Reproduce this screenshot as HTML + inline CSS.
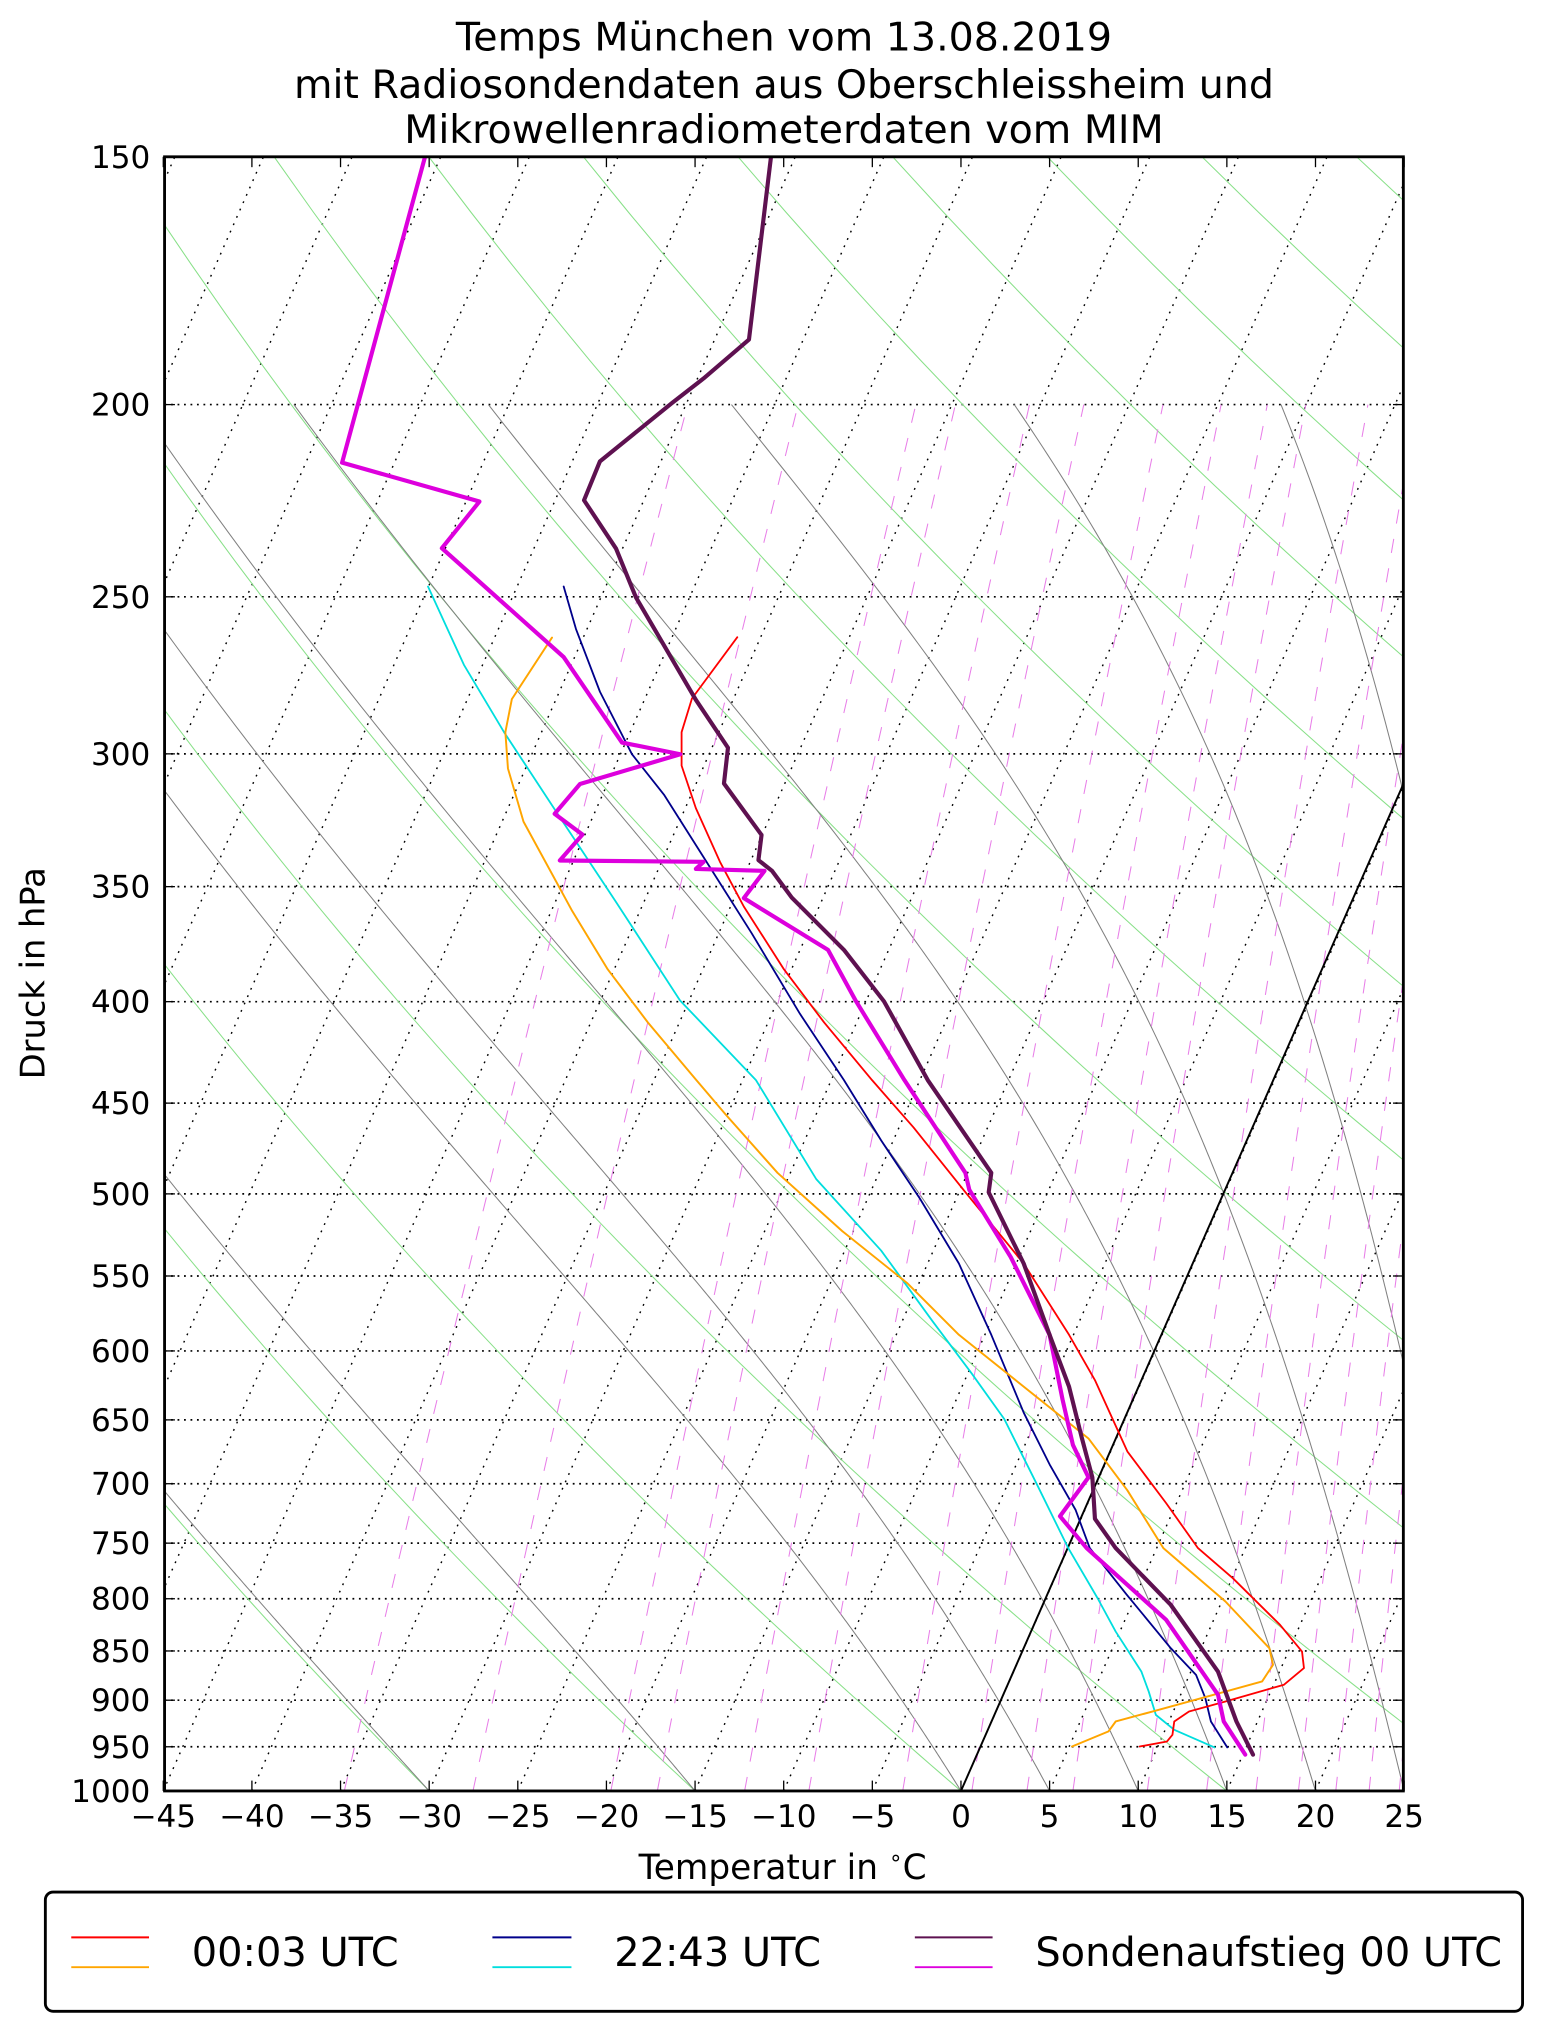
<!DOCTYPE html>
<html><head><meta charset="utf-8"><style>html,body{margin:0;padding:0;background:#fff}svg{display:block}text{font-family:"DejaVu Sans","Liberation Sans",sans-serif;fill:#000}</style></head>
<body>
<svg id="s" width="1542" height="2032" viewBox="0 0 1190 1568" preserveAspectRatio="none" xmlns="http://www.w3.org/2000/svg">
<defs><clipPath id="c"><rect x="127" y="121" width="956" height="1261"/></clipPath></defs>
<rect width="1190" height="1568" fill="#fff"/>
<g id="bg" clip-path="url(#c)"></g>
<g id="data" clip-path="url(#c)" fill="none" stroke-linejoin="round" stroke-linecap="round"></g>
<rect x="127" y="121" width="956" height="1261" fill="none" stroke="#000" stroke-width="2.2"/>
<g id="ticks"></g>
<text x="605" y="39" font-size="30.5" text-anchor="middle">Temps München vom 13.08.2019</text>
<text x="605" y="75.5" font-size="30.5" text-anchor="middle">mit Radiosondendaten aus Oberschleissheim und</text>
<text x="605" y="110.5" font-size="30.5" text-anchor="middle">Mikrowellenradiometerdaten vom MIM</text>
<text x="604" y="1450" font-size="26.5" text-anchor="middle">Temperatur in <tspan font-size="17" dy="-11">∘</tspan><tspan dy="11">C</tspan></text>
<text x="0" y="0" font-size="26" text-anchor="middle" transform="translate(34.5,751) rotate(-90)">Druck in hPa</text>
<rect x="35" y="1460" width="1140" height="92" rx="6" fill="#fff" stroke="#000" stroke-width="2.2"/>
<line x1="55" y1="1495" x2="115" y2="1495" stroke="#ff0000" stroke-width="1.5"/>
<line x1="55" y1="1518" x2="115" y2="1518" stroke="#ffa500" stroke-width="1.5"/>
<line x1="380" y1="1495" x2="441" y2="1495" stroke="#00008b" stroke-width="1.5"/>
<line x1="380" y1="1518" x2="441" y2="1518" stroke="#00dede" stroke-width="1.5"/>
<line x1="706" y1="1495" x2="766" y2="1495" stroke="#5e1150" stroke-width="1.5"/>
<line x1="706" y1="1518" x2="766" y2="1518" stroke="#dd00dd" stroke-width="1.5"/>
<text x="148" y="1517" font-size="30.8">00:03 UTC</text>
<text x="474" y="1517" font-size="30.8">22:43 UTC</text>
<text x="799" y="1517" font-size="30.8">Sondenaufstieg 00 UTC</text>
</svg>
<script>
(function(){
var NS="http://www.w3.org/2000/svg";
function Y(p){return 1382-664.7*Math.log(1000/p);}
function X(T,p){return 741.6+13.68*T+0.441*(1382-Y(p));}
function el(par,tag,a){var e=document.createElementNS(NS,tag);for(var k in a)e.setAttribute(k,a[k]);par.appendChild(e);return e;}
function pth(pts){var d="";for(var i=0;i<pts.length;i++)d+=(i?"L":"M")+pts[i][0].toFixed(2)+" "+pts[i][1].toFixed(2);return d;}
var bg=document.getElementById("bg"),dg=document.getElementById("data"),tk=document.getElementById("ticks");
var P=[150,200,250,300,350,400,450,500,550,600,650,700,750,800,850,900,950,1000];
P.forEach(function(p){var y=Y(p);el(bg,"line",{x1:127,x2:1083,y1:y,y2:y,stroke:"#000","stroke-width":1.3,"stroke-dasharray":"1.4 3.6"});});
for(var T=-150;T<=40;T+=5){el(bg,"line",{x1:X(T,1000),y1:Y(1000),x2:X(T,150),y2:Y(150),stroke:"#000","stroke-width":1.1,"stroke-dasharray":"1.4 4.8"});}
for(var T0=-60;T0<=240;T0+=15){var pts=[];for(var p=1000;p>=150;p-=10){var t=(T0+273.15)*Math.pow(p/1000,0.2857)-273.15;pts.push([X(t,p),Y(p)]);}el(bg,"path",{d:pth(pts),fill:"none",stroke:"#88e088","stroke-width":0.8});}
function es(tc){return 6.112*Math.exp(17.67*tc/(tc+243.5));}
[-30,-15,0,5,10,15,20,25,30,35].forEach(function(T0){var T=T0+273.15,pts=[];for(var p=1000;p>=200;p-=2){pts.push([X(T-273.15,p),Y(p)]);var e=es(T-273.15),rs=0.622*e/(p-e),Lv=2.5e6,Rd=287,Cp=1004;var g=(Rd*T+Lv*rs)/(Cp+Lv*Lv*rs*0.622/(Rd*T*T))/p;T-=g*2;}el(bg,"path",{d:pth(pts),fill:"none",stroke:"#808080","stroke-width":0.8});});
[0.2,0.4,0.8,1,1.5,2,3,4,5,6,8,10,12,14,16,18,20,24,28,32,36,40].forEach(function(w){var pts=[];for(var p=1000;p>=200;p-=10){var e=w*p/(622+w);var l=Math.log(e/6.112);var td=243.5*l/(17.67-l);pts.push([X(td,p),Y(p)]);}el(bg,"path",{d:pth(pts),fill:"none",stroke:"#e87ee8","stroke-width":0.8,"stroke-dasharray":"11 12"});});
el(bg,"line",{x1:741.6,y1:1382,x2:1083,y2:605,stroke:"#000","stroke-width":1.5});
P.forEach(function(p){var y=Y(p);el(tk,"line",{x1:127,x2:135,y1:y,y2:y,stroke:"#000","stroke-width":1});el(tk,"line",{x1:1075,x2:1083,y1:y,y2:y,stroke:"#000","stroke-width":1});var t=el(tk,"text",{x:116,y:y+8.5,"font-size":24,"text-anchor":"end"});t.textContent=p;});
for(var T=-45;T<=25;T+=5){var x=741.6+13.68*T;el(tk,"line",{x1:x,x2:x,y1:1382,y2:1374,stroke:"#000","stroke-width":1});el(tk,"line",{x1:x,x2:x,y1:121,y2:129,stroke:"#000","stroke-width":1});var t=el(tk,"text",{x:x,y:1410,"font-size":24,"text-anchor":"middle"});t.textContent=(T<0?"\u2212":"")+Math.abs(T);}
function line(pts,c,w){el(dg,"path",{d:pth(pts),stroke:c,"stroke-width":w});}
line([[435,452.6],[444.5,485.4],[463,533.8],[487.7,582],[512.4,613.2],[543,661.5],[580,720],[617.4,782.4],[651.3,833.5],[680,880],[710,925],[740,975],[765,1030],[790,1090],[810,1130],[830,1165],[841,1194.6],[869.6,1230.6],[903.5,1271.8],[923,1292.4],[930.2,1310.4],[934.5,1328.4],[947.1,1348.4]],"#00008b",1.4);
line([[330.3,452.6],[358,513],[389,565],[432,630.5],[475.4,696],[524.8,772],[583.4,833.5],[630,910],[680,965],[720,1020],[750,1060],[775,1095],[800,1145],[824.4,1194.6],[847,1233.2],[861,1259],[880.8,1289.8],[886.5,1305.3],[892,1323.3],[906.2,1334.8],[937.3,1348.4]],"#00dede",1.4);
line([[426,492],[395,539.5],[390,565],[392,593],[404,634],[441.6,703],[469,748],[500,789],[537,833],[560,860],[600,905],[650,950],[700,990],[740,1030],[790,1070],[840,1110],[870,1150],[897.8,1194.6],[945.7,1235.8],[979.6,1271.8],[982.4,1284.7],[974,1297.5],[945.7,1305.3],[889.3,1320.7],[861,1328.4],[855.5,1336],[827.3,1347.7]],"#ffa500",1.5);
line([[569,491.7],[534,539],[526,565],[526,590.8],[537,623.6],[555.6,665],[574,699.5],[605,748],[636,789],[673,833.5],[705,870],[745,920],[790,975],[825,1030],[845,1065],[870,1120],[900,1160],[924.5,1194.6],[951.4,1217.8],[987.8,1253.8],[1004.8,1274.4],[1006.3,1287.2],[990.9,1300],[945.7,1313],[917.6,1320.7],[906.2,1328.4],[904.8,1338.7],[900.6,1343.8],[879.5,1347.7]],"#ff0000",1.4);
line([[328,121],[264,357],[370,387],[341,423],[435,507],[480,573],[525,582],[447.6,605],[428,628],[449.5,644],[432,664],[543,665],[537,670.5],[590,672],[574,693],[639,733],[660.6,772.6],[698,833.5],[745,905],[748,918],[780,970],[810,1030],[820,1080],[828,1115],[840,1140],[818,1170],[838.6,1194.6],[900,1250],[940,1307.8],[944.4,1328.4],[961,1354]],"#dd00dd",3.2);
line([[595,121],[578,262],[543,292],[518.6,311],[463,356],[450.7,386],[475.4,423.3],[490.8,461],[537,540],[561.8,577],[558.7,604.6],[587.7,644.3],[585.3,663.7],[595.8,672],[611,692.6],[651.3,733],[682.2,772.7],[716,833.5],[765,905],[763,920],[790,975],[810,1030],[825,1070],[835,1110],[843,1140],[845,1172],[861,1194.6],[903.5,1238.4],[940,1290],[954.2,1328.4],[967,1354]],"#5e1150",3.2);
})();
</script>
</body></html>
